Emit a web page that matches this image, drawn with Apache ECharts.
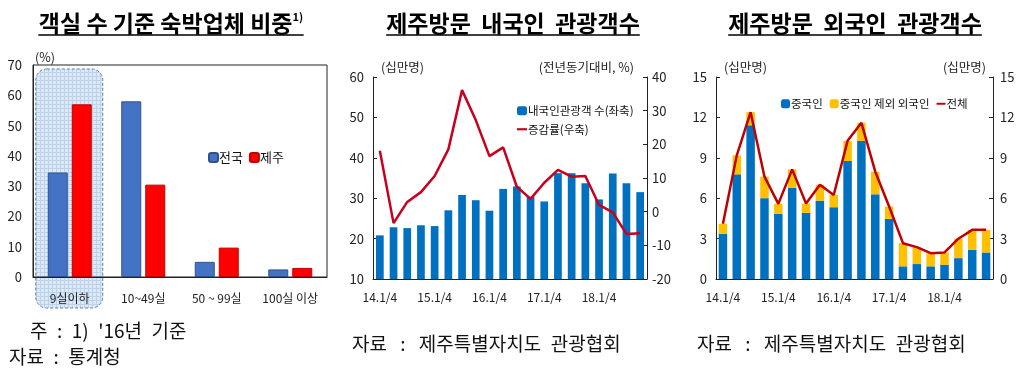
<!DOCTYPE html>
<html><head><meta charset="utf-8">
<script src="https://cdn.jsdelivr.net/npm/echarts@6/dist/echarts.min.js"></script>
<style>html,body{margin:0;padding:0;background:#fff}#c{width:1024px;height:371px}</style>
</head><body><div id="c"></div>
<script>
// ---- Panel 1: 객실 수 기준 숙박업체 비중
const roomCats = ['9실이하', '10~49실', '50 ~ 99실', '100실 이상'];
const nationShare = [34.5, 58.0, 5.0, 2.5];
const jejuShare = [57.0, 30.5, 9.7, 3.0];
const shareTicks = [0, 10, 20, 30, 40, 50, 60, 70];

// ---- Panels 2 & 3: quarters
const quarters = ['14.1/4','14.2/4','14.3/4','14.4/4','15.1/4','15.2/4','15.3/4','15.4/4',
  '16.1/4','16.2/4','16.3/4','16.4/4','17.1/4','17.2/4','17.3/4','17.4/4',
  '18.1/4','18.2/4','18.3/4','18.4/4'];

// 내국인 관광객 수 (십만명) and 증감률 (%)
const domesticVisitors = [20.8, 22.8, 22.6, 23.3, 23.1, 27.0, 30.8, 29.5, 26.9, 32.3, 32.9, 30.4, 29.2, 36.2, 36.2, 33.7, 29.7, 36.1, 33.7, 31.5];
const domesticGrowth = [18.1, -3.4, 2.9, 5.8, 10.6, 18.5, 36.1, 27.2, 16.5, 19.1, 7.4, 3.8, 8.6, 12.4, 10.4, 10.6, 2.0, -0.2, -6.6, -6.4];

// 외국인 관광객 (십만명)
const chineseVisitors = [3.36, 7.77, 11.42, 6.0, 4.84, 6.76, 4.91, 5.82, 5.33, 8.76, 10.26, 6.29, 4.47, 0.94, 1.11, 0.94, 1.06, 1.55, 2.17, 1.97];
const otherForeign = [0.74, 1.41, 0.97, 1.6, 0.74, 1.38, 0.69, 1.18, 0.91, 1.5, 1.34, 1.68, 0.91, 1.72, 1.26, 0.98, 0.91, 1.44, 1.48, 1.68];
const totalForeign = [4.1, 9.18, 12.39, 7.6, 5.58, 8.14, 5.6, 7.0, 6.24, 10.26, 11.6, 7.97, 5.38, 2.66, 2.37, 1.92, 1.97, 2.99, 3.65, 3.65];

const FONT = '"Noto Sans CJK KR", "Noto Sans", sans-serif';
const chart = echarts.init(document.getElementById('c'), null, {renderer: 'canvas'});

function textWidth(font, s) {
  const c = document.createElement('canvas').getContext('2d');
  c.font = font; return c.measureText(s).width;
}

// pattern for highlight box
const pc = document.createElement('canvas'); pc.width = 4; pc.height = 4;
const pg = pc.getContext('2d');
pg.fillStyle = '#dde9f7'; pg.fillRect(0, 0, 4, 4);
pg.fillStyle = '#bcd1ea'; pg.fillRect(0, 0, 4, 1); pg.fillRect(0, 0, 1, 4);

const yTxt = {color: '#222', fontFamily: FONT, fontSize: 13};
const xTxt = {color: '#222', fontFamily: FONT, fontSize: 12};
const LINE_ICON = 'path://M0,0 L12,0 L12,2.6 L0,2.6 Z';

const option = {
  animation: false,
  textStyle: {fontFamily: FONT},
  grid: [
    {left: 33, top: 65, width: 294, height: 212, show: true, borderColor: '#222', borderWidth: 1, backgroundColor: 'transparent'},
    {left: 373, top: 77, width: 274, height: 202},
    {left: 716, top: 77, width: 277, height: 202}
  ],
  xAxis: [
    {gridIndex: 0, type: 'category', data: roomCats, axisLine: {onZero: false, lineStyle: {color: '#222'}}, axisTick: {show: false},
      axisLabel: Object.assign({interval: 0, margin: 15}, xTxt)},
    {gridIndex: 1, type: 'category', data: quarters, axisLine: {onZero: false, lineStyle: {color: '#222'}}, axisTick: {show: false},
      axisLabel: Object.assign({interval: 3, margin: 12}, xTxt)},
    {gridIndex: 2, type: 'category', data: quarters, axisLine: {onZero: false, lineStyle: {color: '#222'}}, axisTick: {show: false},
      axisLabel: Object.assign({interval: 3, margin: 12}, xTxt)}
  ],
  yAxis: [
    {gridIndex: 0, type: 'value', min: shareTicks[0], max: shareTicks[shareTicks.length - 1], interval: 10,
      axisLine: {show: true, lineStyle: {color: '#222'}}, axisTick: {show: false}, splitLine: {show: false},
      axisLabel: Object.assign({margin: 11}, yTxt)},
    {gridIndex: 1, type: 'value', min: 10, max: 60, interval: 10, position: 'left',
      axisLine: {show: true, lineStyle: {color: '#222'}}, axisTick: {show: true, inside: true, length: 4, lineStyle: {color: '#222'}},
      splitLine: {show: false}, axisLabel: Object.assign({margin: 9}, yTxt)},
    {gridIndex: 1, type: 'value', min: -20, max: 40, interval: 10, position: 'right',
      axisLine: {show: true, lineStyle: {color: '#222'}}, axisTick: {show: true, inside: true, length: 4, lineStyle: {color: '#222'}},
      splitLine: {show: false}, axisLabel: Object.assign({margin: 5}, yTxt)},
    {gridIndex: 2, type: 'value', min: 0, max: 15, interval: 3, position: 'left',
      axisLine: {show: true, lineStyle: {color: '#222'}}, axisTick: {show: true, inside: true, length: 4, lineStyle: {color: '#222'}},
      splitLine: {show: false}, axisLabel: Object.assign({margin: 9}, yTxt)},
    {gridIndex: 2, type: 'value', min: 0, max: 15, interval: 3, position: 'right',
      axisLine: {show: true, lineStyle: {color: '#222'}}, axisTick: {show: true, inside: true, length: 4, lineStyle: {color: '#222'}},
      splitLine: {show: false}, axisLabel: Object.assign({margin: 7}, yTxt)}
  ],
  legend: [
    {left: 203, top: 146, itemWidth: 9, itemHeight: 9, itemGap: 6, data: ['전국', '제주'],
      textStyle: {fontSize: 13, color: '#111', fontFamily: FONT, padding: [0, 0, 0, -4]}},
    {left: 512, top: 100, orient: 'vertical', itemWidth: 10, itemHeight: 9, itemGap: 7,
      data: ['내국인관광객 수(좌축)', {name: '증감률(우축)', icon: LINE_ICON}],
      textStyle: {fontSize: 11.5, color: '#111', fontFamily: FONT, padding: [0, 0, 0, -4]}},
    {left: 776, top: 93, itemWidth: 9, itemHeight: 9, itemGap: 7,
      data: ['중국인', '중국인 제외 외국인', {name: '전체', icon: LINE_ICON}],
      textStyle: {fontSize: 11.5, color: '#111', fontFamily: FONT, padding: [0, 0, 0, -4]}}
  ],
  series: [
    {name: '전국', type: 'bar', xAxisIndex: 0, yAxisIndex: 0, data: nationShare, barWidth: 20, barGap: '20%',
      itemStyle: {color: '#4472C4', borderColor: '#2F528F', borderWidth: 1}, z: 3},
    {name: '제주', type: 'bar', xAxisIndex: 0, yAxisIndex: 0, data: jejuShare, barWidth: 20,
      itemStyle: {color: '#FF0000', borderColor: '#C00000', borderWidth: 1}, z: 3},
    {name: '내국인관광객 수(좌축)', type: 'bar', xAxisIndex: 1, yAxisIndex: 1, data: domesticVisitors, barWidth: 7.7,
      itemStyle: {color: '#0070C0'}},
    {name: '증감률(우축)', type: 'line', xAxisIndex: 1, yAxisIndex: 2, data: domesticGrowth, symbol: 'none',
      lineStyle: {color: '#C8001E', width: 2.5}, itemStyle: {color: '#C8001E'}, z: 5},
    {name: '중국인', type: 'bar', stack: 'f', xAxisIndex: 2, yAxisIndex: 3, data: chineseVisitors, barWidth: 8.5,
      itemStyle: {color: '#0070C0'}},
    {name: '중국인 제외 외국인', type: 'bar', stack: 'f', xAxisIndex: 2, yAxisIndex: 3, data: otherForeign, barWidth: 8.5,
      itemStyle: {color: '#FFC000'}},
    {name: '전체', type: 'line', xAxisIndex: 2, yAxisIndex: 3, data: totalForeign, symbol: 'none',
      lineStyle: {color: '#C00000', width: 2.5}, itemStyle: {color: '#C00000'}, z: 5}
  ]
};
chart.setOption(option);

// decorations: titles, underlines, notes, highlight box
const TF = 'bold 23px "Noto Sans CJK KR"';
const titles = [
  {cx: 171, main: '객실 수 기준 숙박업체 비중', sup: '1)'},
  {cx: 513, main: '제주방문  내국인  관광객수', sup: ''},
  {cx: 855, main: '제주방문  외국인  관광객수', sup: ''}
];
const graphics = [];
titles.forEach(t => {
  const w = textWidth(TF, t.main) + (t.sup ? textWidth('bold 11px "Noto Sans CJK KR"', t.sup) + 1 : 0);
  graphics.push({type: 'text', silent: true, style: {
    text: t.sup ? '{m|' + t.main + '}{s|' + t.sup + '}' : t.main,
    x: t.cx, y: 23, align: 'center', verticalAlign: 'middle',
    font: TF, fill: '#000',
    rich: {m: {fontSize: 23, fontWeight: 'bold', fontFamily: FONT, fill: '#000'},
           s: {fontSize: 11, fontWeight: 'bold', fontFamily: FONT, fill: '#000', verticalAlign: 'top'}}
  }});
  graphics.push({type: 'line', silent: true, shape: {x1: t.cx - w / 2, y1: 35, x2: t.cx + w / 2, y2: 35},
    style: {stroke: '#000', lineWidth: 1.5}});
});
const small = (text, x, y, align) => ({type: 'text', silent: true,
  style: {text, x, y, align: align || 'left', verticalAlign: 'middle', font: '12.5px ' + FONT, fill: '#222'}});
graphics.push(small('(%)', 35, 57));
graphics.push(small('(십만명)', 381, 67));
graphics.push(small('(전년동기대비, %)', 634, 67, 'right'));
graphics.push(small('(십만명)', 724, 67));
graphics.push(small('(십만명)', 986, 67, 'right'));
const SP = '\u2002';
const note = (text, x, y) => ({type: 'text', silent: true,
  style: {text, x, y, align: 'left', verticalAlign: 'middle', font: '19px ' + FONT, fill: '#111'}});
graphics.push(note('주' + SP + ':' + SP + "1)" + SP + "'16년" + SP + '기준', 30, 331));
graphics.push(note('자료' + SP + ':' + SP + '통계청', 9, 357));
graphics.push(note('자료' + SP + '\u2009:' + SP + '\u2009제주특별자치도' + SP + '관광협회', 352, 344));
graphics.push(note('자료' + SP + '\u2009:' + SP + '\u2009제주특별자치도' + SP + '관광협회', 697, 344));

const c0 = chart.convertToPixel({xAxisIndex: 0}, 0);
graphics.push({type: 'rect', silent: true, z: -1,
  shape: {x: c0 - 34, y: 69, width: 67, height: 239, r: 11},
  style: {fill: {image: pc, repeat: 'repeat'}, stroke: '#5B7DB0', lineWidth: 1, lineDash: [3, 2]}});

chart.setOption({graphic: {elements: graphics}});
</script>
</body></html>
